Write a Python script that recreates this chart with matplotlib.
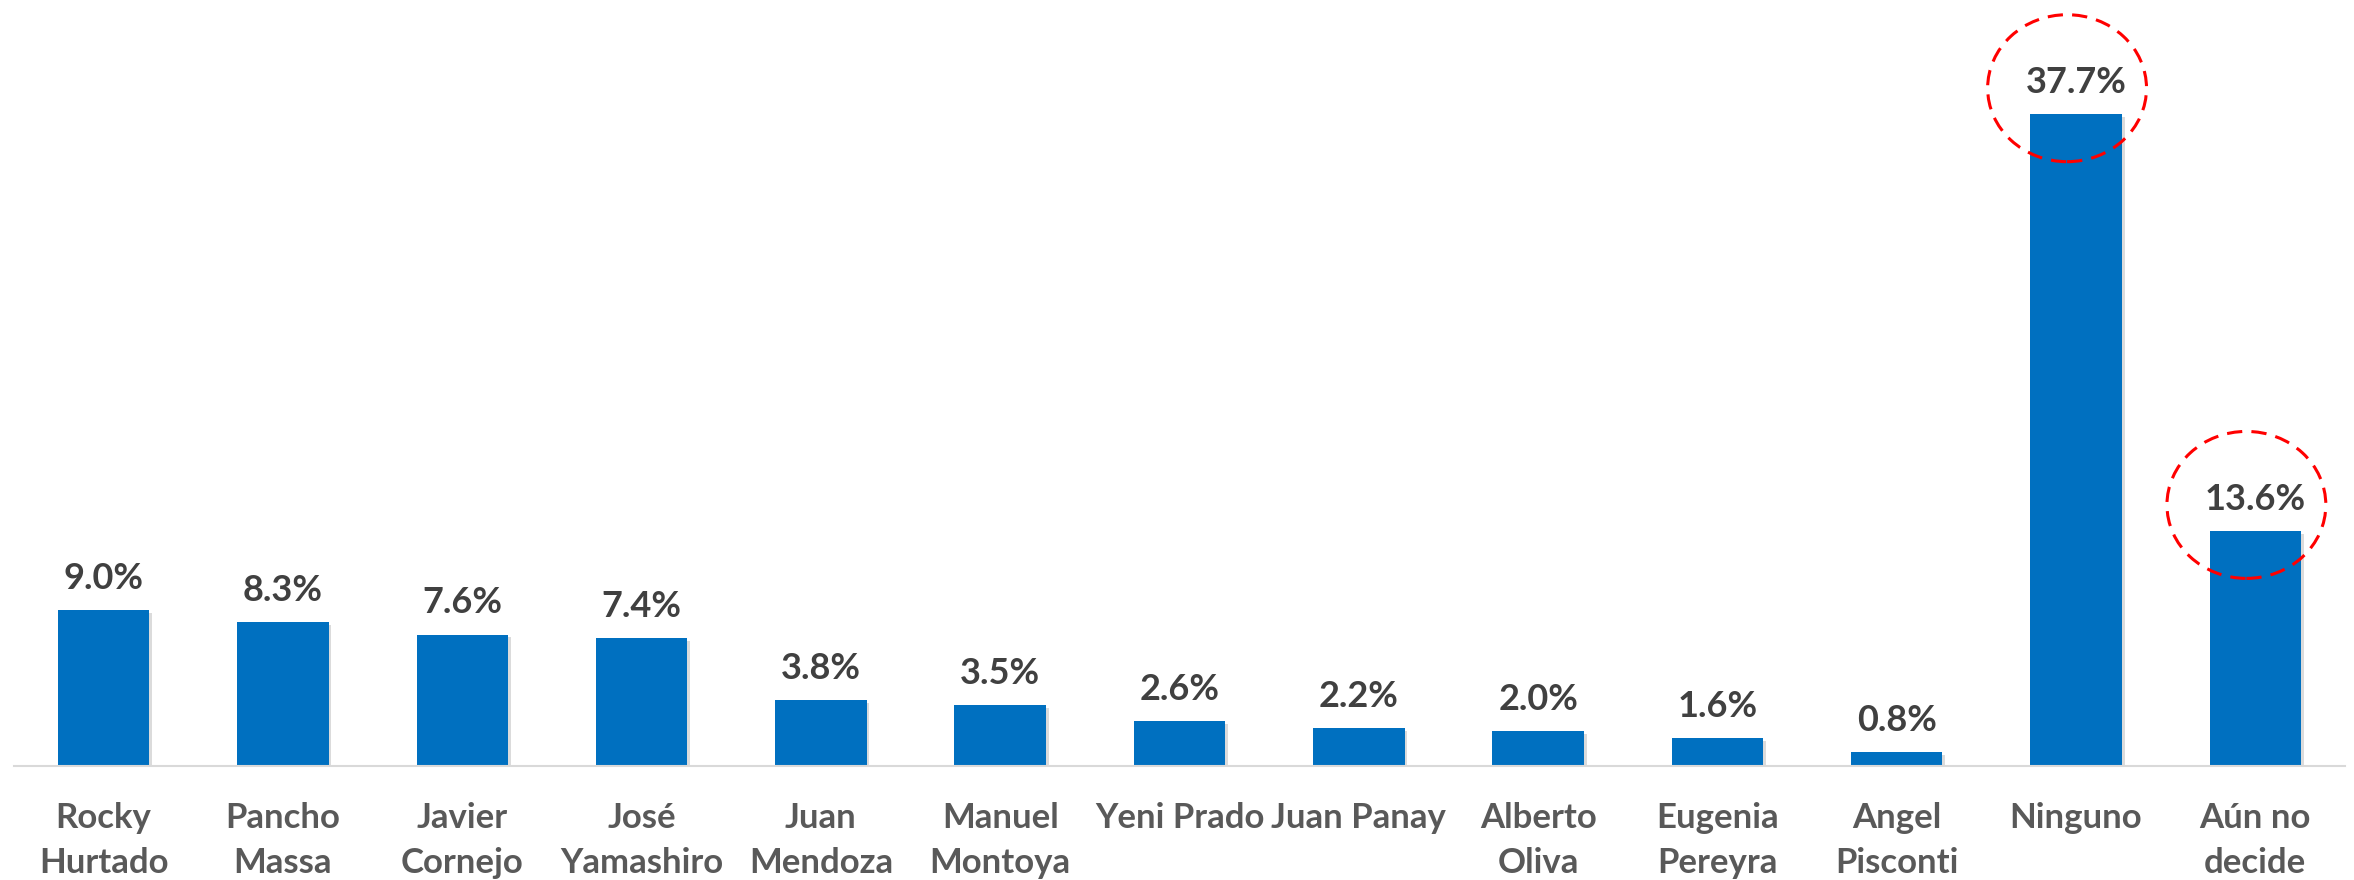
import numpy as np
import matplotlib
matplotlib.use("Agg")
import matplotlib.pyplot as plt
from matplotlib.patches import Ellipse
import matplotlib.patheffects as pe

# Data
categories = ["Rocky\nHurtado", "Pancho\nMassa", "Javier\nCornejo", "José\nYamashiro",
              "Juan\nMendoza", "Manuel\nMontoya", "Yeni Prado", "Juan Panay",
              "Alberto\nOliva", "Eugenia\nPereyra", "Angel\nPisconti", "Ninguno",
              "Aún no\ndecide"]
values = [9.0, 8.3, 7.6, 7.4, 3.8, 3.5, 2.6, 2.2, 2.0, 1.6, 0.8, 37.7, 13.6]
highlighted = ["Ninguno", "Aún no\ndecide"]

bar_color = "#0070C0"
font = ["Lato", "DejaVu Sans"]

fig = plt.figure(figsize=(23.54, 8.8), dpi=100)
W, H = 2354, 880
# axes: x from 14 to 2345 px, baseline at y=766 px from top
ax = fig.add_axes([14 / W, (H - 766) / H, (2345 - 14) / W, 766 / H])

x = np.arange(len(categories))
bars = ax.bar(x, values, width=0.51, color=bar_color, zorder=2)
for b in bars:
    b.set_path_effects([pe.SimplePatchShadow(offset=(2, -2), shadow_rgbFace="#999999", alpha=0.35),
                        pe.Normal()])

ax.set_xlim(-0.5, len(categories) - 0.5)
ax.set_ylim(0, 44.3)

for xi, v in zip(x, values):
    ax.annotate(f"{v:.1f}%", (xi, v), xytext=(0, 11), textcoords="offset points",
                ha="center", va="bottom", fontsize=26, fontweight="bold",
                color="#404040", family=font)

# dashed circles on highlighted bars
for xi, (cat, v) in enumerate(zip(categories, values)):
    if cat in highlighted:
        e = Ellipse((xi - 0.05, v + 1.5), width=0.886, height=8.5, fill=False,
                    edgecolor="#FF0000", linewidth=2.2, linestyle=(0, (5, 3)), zorder=3,
                    clip_on=False)
        ax.add_patch(e)

ax.set_xticks(x)
ax.set_xticklabels(categories, fontsize=25, fontweight="bold", color="#595959",
                   family=font, linespacing=1.5)
ax.tick_params(axis="x", length=0, pad=26)
ax.set_yticks([])

for s in ["top", "right", "left"]:
    ax.spines[s].set_visible(False)
ax.spines["bottom"].set_color("#D9D9D9")
ax.spines["bottom"].set_linewidth(1.5)

fig.savefig("out.png", dpi=100)
